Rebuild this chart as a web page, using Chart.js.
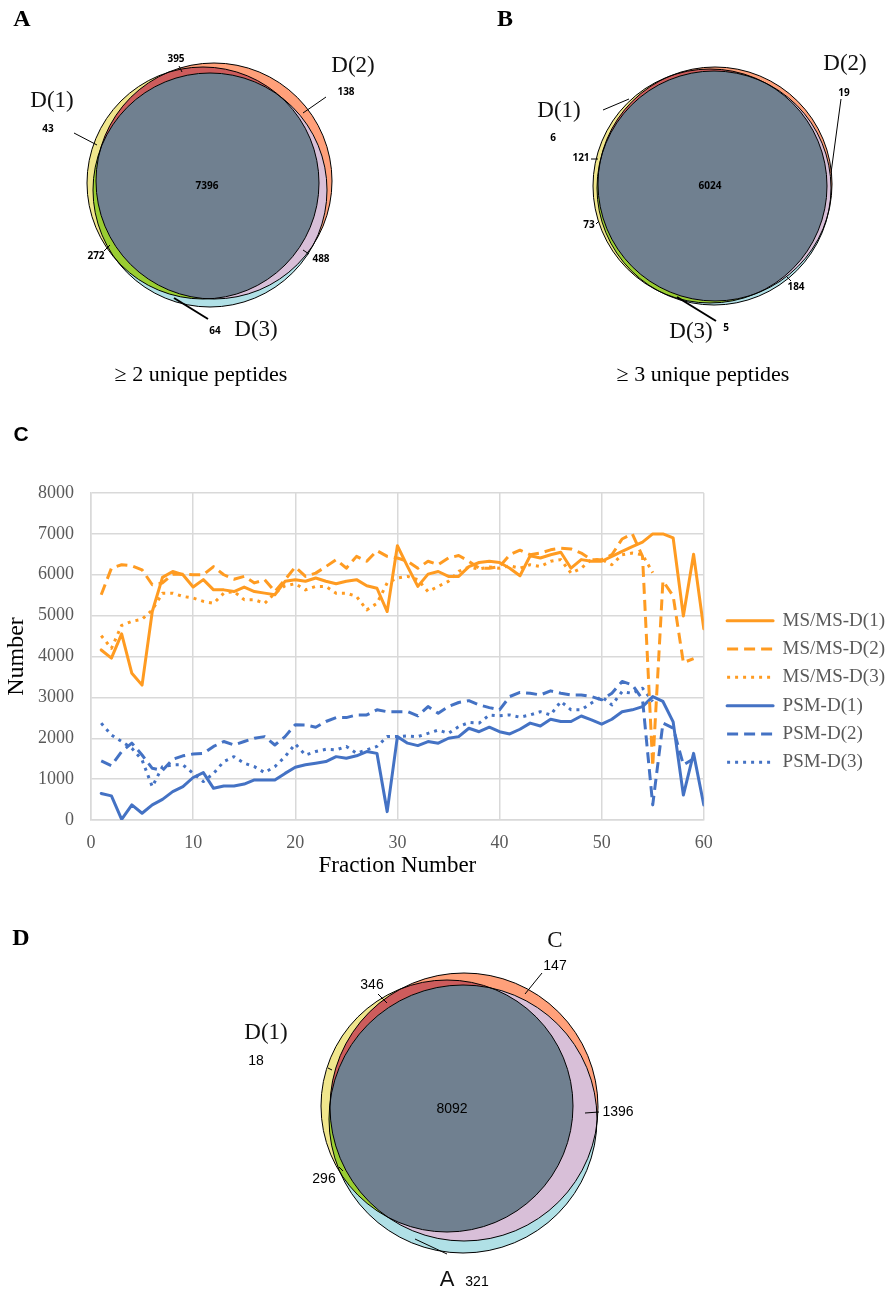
<!DOCTYPE html>
<html>
<head>
<meta charset="utf-8">
<script src="https://cdn.jsdelivr.net/npm/chart.js@4.4.1/dist/chart.umd.min.js"></script>
<style>
  html, body { margin: 0; padding: 0; background: #fff; }
  body { width: 888px; height: 1290px; position: relative; overflow: hidden; }
  .panel { position: absolute; }
  canvas { display: block; }
</style>
</head>
<body>
<div class="panel" style="left:0;top:0"><canvas id="vennA" width="444" height="400"></canvas></div>
<div class="panel" style="left:444px;top:0"><canvas id="vennB" width="444" height="400"></canvas></div>
<div class="panel" style="left:0;top:420px"><canvas id="lineC" width="888" height="470"></canvas></div>
<div class="panel" style="left:0;top:900px"><canvas id="vennD" width="888" height="390"></canvas></div>
<script>
const SERIF = "'Liberation Serif', 'Times New Roman', serif";
const SANS = "'Liberation Sans', Arial, sans-serif";

// ---------- Venn data (region order: only1, only2, only3, 1&2, 1&3, 2&3, all) ----------
const vennRegions = ['only 1', 'only 2', 'only 3', '1 & 2', '1 & 3', '2 & 3', '1 & 2 & 3'];
const setsA = ['D(1)', 'D(2)', 'D(3)'];
const countsA = [43, 138, 64, 395, 272, 488, 7396];
const setsB = ['D(1)', 'D(2)', 'D(3)'];
const countsB = [6, 19, 5, 121, 73, 184, 6024];
const setsD = ['D(1)', 'C', 'A'];
const countsD = [18, 147, 321, 346, 296, 1396, 8092];

// ---------- Line chart data ----------
const fractionNumbers = [1, 2, 3, 4, 5, 6, 7, 8, 9, 10, 11, 12, 13, 14, 15, 16, 17, 18, 19, 20,
  21, 22, 23, 24, 25, 26, 27, 28, 29, 30, 31, 32, 33, 34, 35, 36, 37, 38, 39, 40,
  41, 42, 43, 44, 45, 46, 47, 48, 49, 50, 51, 52, 53, 54, 55, 56, 57, 58, 59, 60];
const xTicks = [0, 10, 20, 30, 40, 50, 60];
const yTicks = [0, 1000, 2000, 3000, 4000, 5000, 6000, 7000, 8000];

const msmsD1 = [4160, 3960, 4555, 3590, 3300, 5100, 5935, 6080, 6000, 5700, 5880, 5630, 5630, 5590, 5700, 5590, 5550, 5510, 5840, 5880,
  5840, 5920, 5840, 5780, 5840, 5880, 5730, 5670, 5100, 6710, 6200, 5715, 6015, 6080, 5960, 5960, 6200, 6300, 6330, 6300,
  6160, 5975, 6465, 6410, 6490, 6550, 6160, 6370, 6330, 6330, 6450, 6570, 6690, 6800, 7000, 7000, 6900, 4990, 6500, 4680];
const msmsD2 = [5510, 6160, 6245, 6220, 6120, 5755, 5800, 6015, 6015, 6000, 6000, 6200, 6000, 5890, 5960, 5800, 5880, 5590, 5880, 6190,
  5960, 6040, 6200, 6370, 6160, 6450, 6330, 6590, 6450, 6410, 6330, 6160, 6330, 6245, 6410, 6470, 6330, 6160, 6160, 6200,
  6490, 6600, 6490, 6530, 6610, 6650, 6630, 6530, 6370, 6370, 6490, 6875, 7000, 6450, 1310, 5850, 5480, 3850, 3950, null];
const msmsD3 = [4510, 4200, 4760, 4860, 4910, 5140, 5550, 5550, 5470, 5430, 5350, 5300, 5550, 5590, 5390, 5390, 5300, 5550, 5730, 5780,
  5630, 5715, 5715, 5550, 5550, 5470, 5140, 5300, 5800, 5920, 5960, 5880, 5590, 5715, 5840, 6080, 6190, 6140, 6190, 6160,
  6220, 6160, 6245, 6200, 6330, 6370, 6040, 6160, 6370, 6370, 6245, 6490, 6530, 6490, 6050, null, null, null, null, null];
const psmD1 = [650, 590, 15, 370, 165, 370, 505, 695, 815, 1040, 1160, 775, 830, 830, 880, 980, 980, 980, 1140, 1290,
  1350, 1390, 1430, 1550, 1510, 1570, 1675, 1630, 205, 2040, 1880, 1820, 1920, 1880, 2000, 2040, 2245, 2160, 2270, 2160,
  2105, 2220, 2370, 2300, 2465, 2410, 2410, 2545, 2450, 2345, 2465, 2650, 2695, 2775, 3020, 2900, 2400, 610, 1630, 370];
const psmD2 = [1445, 1330, 1675, 1880, 1590, 1265, 1210, 1485, 1570, 1615, 1630, 1800, 1920, 1835, 1920, 2000, 2040, 1835, 2040, 2330,
  2325, 2270, 2410, 2505, 2505, 2570, 2570, 2695, 2650, 2650, 2650, 2545, 2775, 2610, 2775, 2875, 2920, 2815, 2750, 2695,
  3020, 3120, 3100, 3060, 3160, 3100, 3060, 3060, 3020, 2940, 3100, 3390, 3305, 2950, 370, 2370, 2250, 1350, 1500, null];
const psmD3 = [2370, 2080, 1920, 1755, 1470, 815, 1305, 1350, 1350, 1140, 940, 1140, 1430, 1550, 1390, 1305, 1160, 1305, 1550, 1860,
  1590, 1675, 1730, 1715, 1800, 1630, 1715, 1800, 2040, 2040, 2055, 2040, 2120, 2200, 2120, 2285, 2385, 2370, 2570, 2550,
  2570, 2515, 2570, 2650, 2570, 2900, 2695, 2695, 2860, 3020, 2815, 3140, 3100, 3225, 2900, null, null, null, null, null];

// ---------- styles / layout ----------
const VENN_COLORS = ['#F0E68C', '#FFA07A', '#B0E0E6', '#CD5C5C', '#9ACD32', '#D8BFD8', '#708090'];
const ORANGE = '#FF9B21';
const BLUE = '#4472C4';

// circles [cx, cy, r] in panel pixels, plus where the texts go
const layoutA = {
  W: 444, H: 400, letter: 'A', letterPos: [22, 20],
  circles: [[203, 183, 116], [214, 181, 118], [210, 190, 117]],
  countPos: [[48, 129], [346, 92], [215, 331], [176, 59], [96, 256], [321, 259], [207, 186]],
  countFont: "bold 10px 'Open Sans'",
  setPos: [[52, 101], [353, 66], [256, 330]],
  setFonts: ['23px ' + SERIF, '23px ' + SERIF, '23px ' + SERIF],
  leaders: [[74, 133, 97, 145, 1], [179, 66, 182, 72, 1], [326, 97, 303, 113, 1], [104, 251, 110, 245, 1],
            [303, 250, 309, 254, 1], [174, 298, 208, 319, 2]],
  caption: '\u2265 2 unique peptides', captionPos: [201, 375]
};
const layoutB = {
  W: 444, H: 400, letter: 'B', letterPos: [61, 20],
  circles: [[266, 186, 117], [271, 184, 117], [270, 188, 117]],
  countPos: [[109, 138], [400, 93], [282, 328], [137, 158], [145, 225], [352, 287], [266, 186]],
  countFont: "bold 10px 'Open Sans'",
  setPos: [[115, 111], [401, 64], [247, 332]],
  setFonts: ['23px ' + SERIF, '23px ' + SERIF, '23px ' + SERIF],
  leaders: [[159, 110, 185, 99, 1], [147, 159, 154, 159, 1], [152, 224, 155, 221, 1], [397, 99, 387, 173, 1],
            [343, 277, 347, 281, 1], [233, 297, 272, 321, 2]],
  caption: '\u2265 3 unique peptides', captionPos: [259, 375]
};
const layoutD = {
  W: 888, H: 390, letter: 'D', letterPos: [21, 39],
  circles: [[447, 206, 126], [464, 207, 134], [463, 219, 134]],
  countPos: [[256, 161], [555, 66], [477, 382], [372, 85], [324, 279], [618, 212], [452, 209]],
  countFont: '14px ' + SANS,
  setPos: [[266, 133], [555, 41], [447, 380]],
  setFonts: ['23px ' + SERIF, '23px ' + SERIF, '22px ' + SANS],
  leaders: [[542, 73, 525, 94, 1], [378, 94, 387, 103, 1], [328, 168, 332, 170, 1], [585, 213, 599, 212, 1],
            [339, 267, 343, 271, 1], [415, 339, 447, 354, 1]],
  caption: null
};

// ---------- Venn plugins ----------
function circlePath(ctx, el) {
  ctx.beginPath();
  ctx.arc(el.x, el.y, el.options.radius, 0, Math.PI * 2);
}

const vennFill = {
  id: 'vennFill',
  beforeDatasetsDraw(chart) {
    const ctx = chart.ctx;
    const [c1, c2, c3] = chart.getDatasetMeta(0).data;
    const paint = (clips, target, color) => {
      ctx.save();
      clips.forEach(c => { circlePath(ctx, c); ctx.clip(); });
      circlePath(ctx, target);
      ctx.fillStyle = color;
      ctx.fill();
      ctx.restore();
    };
    paint([], c1, VENN_COLORS[0]);
    paint([], c2, VENN_COLORS[1]);
    paint([], c3, VENN_COLORS[2]);
    paint([c1], c2, VENN_COLORS[3]);
    paint([c1], c3, VENN_COLORS[4]);
    paint([c2], c3, VENN_COLORS[5]);
    paint([c1, c2], c3, VENN_COLORS[6]);
  }
};

function vennText(L, sets, counts) {
  return {
    id: 'vennText',
    afterDatasetsDraw(chart) {
      const ctx = chart.ctx;
      const px = v => chart.scales.x.getPixelForValue(v);
      const py = v => chart.scales.y.getPixelForValue(v);
      ctx.save();
      ctx.strokeStyle = '#000';
      L.leaders.forEach(([x1, y1, x2, y2, w]) => {
        ctx.lineWidth = w;
        ctx.beginPath();
        ctx.moveTo(px(x1), py(y1));
        ctx.lineTo(px(x2), py(y2));
        ctx.stroke();
      });
      ctx.fillStyle = '#000';
      ctx.textAlign = 'center';
      ctx.textBaseline = 'middle';
      ctx.font = L.countFont;
      counts.forEach((n, i) => ctx.fillText(String(n), px(L.countPos[i][0]), py(L.countPos[i][1])));
      ctx.fillStyle = '#111';
      sets.forEach((s, i) => {
        ctx.font = L.setFonts[i];
        ctx.fillText(s, px(L.setPos[i][0]), py(L.setPos[i][1]));
      });
      ctx.fillStyle = '#000';
      ctx.font = 'bold 24px ' + SERIF;
      ctx.fillText(L.letter, px(L.letterPos[0]), py(L.letterPos[1]));
      if (L.caption) {
        ctx.font = '22px ' + SERIF;
        ctx.fillText(L.caption, px(L.captionPos[0]), py(L.captionPos[1]));
      }
      ctx.restore();
    }
  };
}

function drawVenn(id, L, sets, counts) {
  return new Chart(document.getElementById(id), {
    type: 'bubble',
    data: {
      datasets: [{
        label: sets.join(' / '),
        data: L.circles.map(c => ({ x: c[0], y: c[1], r: c[2] })),
        backgroundColor: 'rgba(0,0,0,0)',
        borderColor: '#000',
        borderWidth: 1,
        hoverRadius: 0,
        clip: false
      }]
    },
    options: {
      responsive: false,
      animation: false,
      events: [],
      layout: { padding: 0, autoPadding: false },
      plugins: { legend: { display: false }, tooltip: { enabled: false } },
      scales: {
        x: { type: 'linear', display: false, min: 0, max: L.W },
        y: { type: 'linear', display: false, min: 0, max: L.H, reverse: true }
      }
    },
    plugins: [vennFill, vennText(L, sets, counts)]
  });
}

drawVenn('vennA', layoutA, setsA, countsA);
drawVenn('vennB', layoutB, setsB, countsB);
drawVenn('vennD', layoutD, setsD, countsD);

// ---------- Line chart (C) ----------
function series(label, values, color, dash, cap) {
  return {
    label,
    data: values.map((v, i) => ({ x: fractionNumbers[i], y: v })),
    borderColor: color,
    backgroundColor: color,
    borderWidth: 3,
    borderDash: dash,
    borderCapStyle: cap,
    borderJoinStyle: 'round',
    pointRadius: 0,
    tension: 0,
    fill: false
  };
}

const panelLetterC = {
  id: 'panelLetterC',
  afterDraw(chart) {
    const ctx = chart.ctx;
    ctx.save();
    ctx.fillStyle = '#000';
    ctx.font = 'bold 21px ' + SANS;
    ctx.textAlign = 'center';
    ctx.textBaseline = 'middle';
    ctx.fillText('C', 21, 15);
    ctx.restore();
  }
};

// push the legend a bit away from the plot, like the original
const legendGap = {
  id: 'legendGap',
  afterLayout(chart) {
    chart.legend.left += 14;
    chart.legend.right += 14;
  }
};

const DASH = [11, 6];
const DOT = [3, 5];

new Chart(document.getElementById('lineC'), {
  type: 'line',
  data: {
    datasets: [
      series('MS/MS-D(1)', msmsD1, ORANGE, [], 'round'),
      series('MS/MS-D(2)', msmsD2, ORANGE, DASH, 'butt'),
      series('MS/MS-D(3)', msmsD3, ORANGE, DOT, 'butt'),
      series('PSM-D(1)', psmD1, BLUE, [], 'round'),
      series('PSM-D(2)', psmD2, BLUE, DASH, 'butt'),
      series('PSM-D(3)', psmD3, BLUE, DOT, 'butt')
    ]
  },
  options: {
    responsive: false,
    animation: false,
    events: [],
    layout: { padding: { top: 73, right: 7, left: 0, bottom: 0 } },
    plugins: {
      tooltip: { enabled: false },
      legend: {
        position: 'right',
        labels: {
          usePointStyle: true,
          pointStyle: 'line',
          pointStyleWidth: 46,
          padding: 9.3,
          color: '#595959',
          font: { family: SERIF, size: 19 },
          // line samples keep the dash pattern of their dataset
          generateLabels(chart) {
            const items = Chart.defaults.plugins.legend.labels.generateLabels(chart);
            items.forEach(it => {
              const ds = chart.data.datasets[it.datasetIndex];
              it.lineDash = ds.borderDash;
              it.lineCap = ds.borderCapStyle;
              it.lineWidth = ds.borderWidth;
            });
            return items;
          }
        }
      }
    },
    scales: {
      x: {
        type: 'linear',
        min: xTicks[0],
        max: xTicks[xTicks.length - 1],
        afterBuildTicks: s => { s.ticks = xTicks.map(v => ({ value: v })); },
        ticks: { color: '#595959', font: { family: SERIF, size: 18 }, padding: 12, maxRotation: 0, callback: v => String(v) },
        grid: { color: '#D9D9D9', lineWidth: 1.5, drawTicks: false },
        border: { color: '#D9D9D9', width: 1.5 },
        title: { display: true, text: 'Fraction Number', color: '#000', font: { family: SERIF, size: 23 }, padding: { top: 0, bottom: 10 } },
        afterFit: s => { s.height = 70; }
      },
      y: {
        min: yTicks[0],
        max: yTicks[yTicks.length - 1],
        afterBuildTicks: s => { s.ticks = yTicks.map(v => ({ value: v })); },
        ticks: { color: '#595959', font: { family: SERIF, size: 18 }, padding: 17, callback: v => String(v) },
        grid: { color: '#D9D9D9', lineWidth: 1.5, drawTicks: false },
        border: { color: '#D9D9D9', width: 1.5 },
        title: { display: true, text: 'Number', color: '#000', font: { family: SERIF, size: 24 }, padding: { top: 2, bottom: 0 } },
        afterFit: s => { s.width = 91; }
      }
    }
  },
  plugins: [panelLetterC, legendGap]
});
</script>
</body>
</html>
